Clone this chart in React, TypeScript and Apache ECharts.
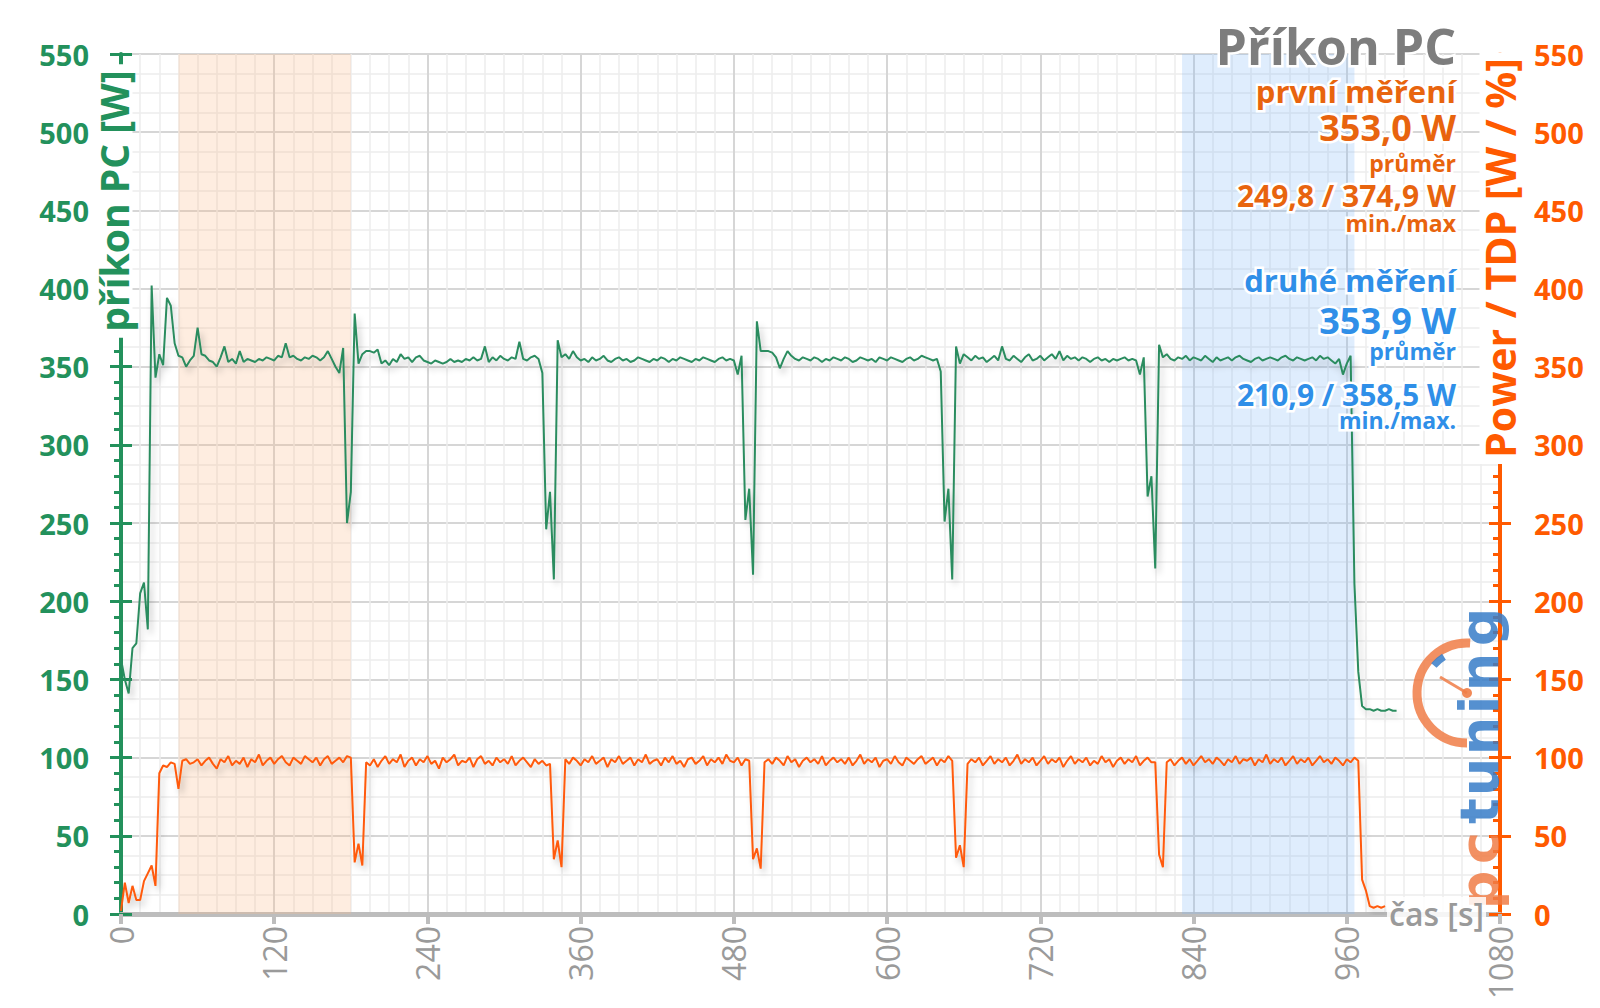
import React, { useEffect, useRef } from 'react';
import * as echarts from 'echarts';

// sampling step of the measurement log (seconds)
const STEP_S = 3;

// x axis (time) and y axes (W, W/%)
const X_MIN = 0;
const X_MAX = 1080;
const X_INTERVAL = 120;
const Y_MIN = 0;
const Y_MAX = 550;
const Y_INTERVAL = 50;

// highlighted measurement windows (seconds)
const bandFirst = [45, 180];
const bandSecond = [831, 966];

// příkon PC [W], one value every STEP_S seconds, starting at 0 s
const pcPower = [
  163, 150, 141, 170, 173, 205, 212, 182, 402, 343,
  358, 351, 394, 389, 365, 357, 356, 350, 354, 357,
  375, 358, 357, 354, 353, 350, 356, 363, 353, 355,
  352, 360, 353, 355, 354, 353, 355, 354, 356, 355,
  354, 357, 356, 365, 356, 357, 355, 354, 356, 355,
  357, 356, 354, 356, 360, 355, 350, 346, 362, 250,
  270, 384, 352, 358, 360, 360, 359, 361, 352, 354,
  351, 355, 353, 358, 355, 356, 353, 356, 357, 354,
  353, 352, 354, 353, 352, 353, 355, 353, 354, 353,
  355, 354, 356, 354, 355, 363, 353, 356, 354, 357,
  355, 354, 356, 355, 366, 355, 354, 356, 357, 355,
  346, 246, 270, 214, 367, 356, 358, 355, 360, 356,
  354, 355, 353, 356, 354, 355, 357, 354, 353, 355,
  356, 354, 355, 353, 354, 356, 355, 354, 353, 355,
  354, 356, 355, 353, 355, 354, 356, 355, 354, 353,
  355, 354, 356, 355, 354, 353, 355, 356, 354, 355,
  354, 345, 357, 252, 272, 217, 379, 360, 360, 360,
  359, 356, 349, 355, 360, 357, 355, 354, 356, 355,
  354, 356, 355, 353, 355, 354, 356, 355, 354, 356,
  355, 353, 354, 356, 355, 354, 355, 353, 356, 355,
  354, 356, 355, 354, 353, 355, 356, 354, 355, 357,
  356, 355, 354, 355, 347, 251, 272, 214, 363, 352,
  358, 356, 354, 357, 355, 356, 353, 355, 357, 354,
  363, 355, 354, 357, 355, 353, 356, 358, 354, 355,
  357, 354, 356, 358, 355, 360, 354, 357, 355, 356,
  354, 356, 355, 353, 355, 356, 354, 355, 353, 355,
  354, 355, 356, 354, 355, 354, 345, 356, 267, 280,
  221, 364, 356, 358, 355, 354, 356, 355, 357, 354,
  356, 355, 354, 357, 355, 353, 356, 354, 355, 356,
  354, 356, 357, 355, 354, 353, 355, 356, 354, 355,
  356, 355, 354, 356, 357, 355, 354, 356, 355, 354,
  355, 356, 354, 357, 355, 356, 354, 352, 355, 345,
  352, 357, 211, 155, 133, 131, 131, 130, 131, 130,
  130, 131, 130, 130,
];

// Power / TDP [W / %], one value every STEP_S seconds, starting at 0 s
const gpuPowerTdp = [
  2, 20, 7, 18, 9, 9, 21, 26, 31, 18,
  90, 95, 94, 97, 96, 80, 98, 99, 96, 97,
  99, 95, 98, 100, 96, 93, 99, 97, 101, 95,
  98, 96, 100, 94, 99, 97, 102, 95, 98, 100,
  96, 99, 101, 97, 95, 100, 98, 96, 101, 99,
  97, 100, 95, 99, 101, 96, 98, 100, 97, 101,
  100, 33, 45, 31, 97, 95, 99, 94, 98, 101,
  96, 99, 97, 102, 94, 98, 100, 95, 99, 97,
  101, 96, 98, 93, 100, 97, 99, 102, 95, 98,
  97, 100, 94, 99, 101, 96, 98, 95, 100, 97,
  99, 96, 101, 95, 98, 100, 97, 94, 99, 96,
  98, 95, 96, 35, 47, 30, 99, 96, 100, 98,
  95, 99, 97, 101, 96, 98, 100, 94, 99, 97,
  101, 96, 98, 100, 95, 99, 97, 102, 96, 98,
  99, 95, 100, 97, 101, 96, 98, 94, 99, 100,
  96, 98, 101, 95, 99, 97, 100, 96, 102, 98,
  97, 100, 95, 99, 98, 35, 42, 29, 97, 99,
  96, 100, 98, 95, 101, 97, 99, 94, 98, 100,
  97, 99, 96, 101, 95, 98, 100, 97, 99, 96,
  100, 95, 98, 102, 96, 99, 97, 100, 94, 98,
  99, 96, 101, 97, 95, 100, 98, 96, 99, 101,
  96, 98, 100, 95, 99, 97, 101, 98, 36, 44,
  30, 96, 99, 97, 100, 95, 98, 101, 96, 99,
  97, 100, 95, 98, 102, 96, 99, 97, 100, 95,
  98, 101, 96, 99, 97, 100, 94, 98, 101, 96,
  99, 97, 100, 95, 98, 96, 101, 97, 99, 94,
  98, 100, 96, 99, 97, 101, 95, 98, 100, 97,
  97, 38, 30, 97, 99, 95, 98, 100, 96, 99,
  95, 98, 101, 97, 99, 96, 100, 98, 95, 99,
  97, 101, 96, 99, 98, 100, 95, 99, 97, 102,
  96, 99, 97, 100, 95, 98, 101, 96, 99, 97,
  100, 95, 98, 101, 97, 99, 96, 100, 98, 95,
  99, 97, 100, 98, 22, 15, 5, 4, 5, 4,
  5,
];

// texts
const chartTitle = 'Příkon PC';
const firstLabel = 'první měření';
const firstAvg = '353,0 W';
const firstMinMax = '249,8 / 374,9 W';
const secondLabel = 'druhé měření';
const secondAvg = '353,9 W';
const secondMinMax = '210,9 / 358,5 W';
const avgCaption = 'průměr';
const minMaxCaption1 = 'min./max';
const minMaxCaption2 = 'min./max.';
const leftAxisName = 'příkon PC [W]';
const rightAxisName = 'Power / TDP [W / %]';
const xAxisName = 'čas [s]';

// logo letters (drawn vertically, bottom to top)
const logoLetters = ['p', 'c', 't', 'u', 'n', 'i', 'n', 'g'];
const logoLetterY = [890, 848, 811, 777, 736, 705, 672, 627];

const GREEN = '#23915c';
const GREEN_LINE = '#2b8c5f';
const ORANGE = '#ff5a00';
const ORANGE_TEXT = '#e8640e';
const BLUE_TEXT = '#2f8fe8';
const GRAY = '#9a9a9a';
const LOGO_ORANGE = 'rgba(240,125,70,0.85)';
const LOGO_BLUE = 'rgba(55,125,200,0.85)';
const FONT = '"Open Sans", "Noto Sans", sans-serif';

const toPairs = (vals: number[]) => vals.map((v, i) => [i * STEP_S, v]);

export default function App() {
  const ref = useRef<HTMLDivElement>(null);
  useEffect(() => {
    if (!ref.current) return;
    const chart = echarts.init(ref.current, undefined, { renderer: 'svg' });

    const yBase = { type: 'value', min: Y_MIN, max: Y_MAX, interval: Y_INTERVAL };
    const tickLabelLeft = { color: GREEN, fontSize: 29, fontWeight: 'bold', fontFamily: FONT, margin: 32 };
    const tickLabelRight = { color: ORANGE, fontSize: 29, fontWeight: 'bold', fontFamily: FONT, margin: 34 };

    const rightX = 1456;
    const blockText = (text: string, y: number, size: number, color: string, weight = 'bold') => ({
      type: 'text',
      z: 100,
      x: rightX,
      y,
      style: {
        text,
        fill: color,
        font: `${weight} ${size}px ${FONT}`,
        align: 'right',
        verticalAlign: 'middle',
        stroke: '#ffffff',
        lineWidth: 5,
      },
    });

    const logoText = logoLetters.map((ch, i) => ({
      type: 'text',
      z: 80,
      x: 1479,
      y: logoLetterY[i],
      rotation: Math.PI / 2,
      style: {
        text: ch,
        fill: i < 2 ? LOGO_ORANGE : LOGO_BLUE,
        font: `bold 54px "DejaVu Sans"`,
        align: 'center',
        verticalAlign: 'middle',
      },
    }));

    const option: any = {
      animation: false,
      backgroundColor: '#ffffff',
      grid: { left: 121, right: 100, top: 54, bottom: 94, containLabel: false },
      xAxis: {
        type: 'value',
        min: X_MIN,
        max: X_MAX,
        interval: X_INTERVAL,
        axisLine: { show: true, lineStyle: { color: '#bdbdbd', width: 5 } },
        axisTick: { show: true, length: 10, lineStyle: { color: '#bdbdbd', width: 4 } },
        axisLabel: {
          rotate: 90, margin: 12, color: GRAY, fontSize: 32, fontFamily: FONT,
          formatter: (v: number) => String(v),
        },
        splitLine: { show: true, lineStyle: { color: '#d6d6d6', width: 2 } },
        minorTick: { show: false, splitNumber: 8 },
        minorSplitLine: { show: true, lineStyle: { color: '#ececec', width: 1.5 } },
      },
      yAxis: [
        {
          ...yBase,
          position: 'left',
          axisLine: { show: true, lineStyle: { color: GREEN, width: 4 } },
          axisTick: { show: true, inside: false, length: 11, lineStyle: { color: GREEN, width: 3 } },
          minorTick: { show: true, splitNumber: 5, length: 7, lineStyle: { color: GREEN, width: 3 } },
          axisLabel: tickLabelLeft,
          splitLine: { show: true, lineStyle: { color: '#d6d6d6', width: 2 } },
          minorSplitLine: { show: false },
        },
        {
          ...yBase,
          position: 'left',
          axisLine: { show: false },
          axisTick: { show: true, inside: true, length: 11, lineStyle: { color: GREEN, width: 3 } },
          minorTick: { show: false, splitNumber: 4 },
          axisLabel: { show: false },
          splitLine: { show: false },
          minorSplitLine: { show: true, lineStyle: { color: '#ececec', width: 1.5 } },
        },
        {
          ...yBase,
          position: 'right',
          axisLine: { show: true, lineStyle: { color: ORANGE, width: 4 } },
          axisTick: { show: true, inside: true, length: 11, lineStyle: { color: ORANGE, width: 3 } },
          minorTick: { show: true, splitNumber: 5, length: 7, lineStyle: { color: ORANGE, width: 3 } },
          axisLabel: tickLabelRight,
          splitLine: { show: false },
          minorSplitLine: { show: false },
        },
        {
          ...yBase,
          position: 'right',
          axisLine: { show: false },
          axisTick: { show: true, inside: false, length: 11, lineStyle: { color: ORANGE, width: 3 } },
          axisLabel: { show: false },
          splitLine: { show: false },
        },
      ],
      series: [
        {
          name: leftAxisName,
          type: 'line',
          yAxisIndex: 0,
          data: toPairs(pcPower),
          showSymbol: false,
          symbol: 'none',
          z: 5,
          lineStyle: {
            color: GREEN_LINE,
            width: 2,
            shadowColor: 'rgba(0,0,0,0.22)',
            shadowBlur: 6,
            shadowOffsetX: 3,
            shadowOffsetY: 5,
          },
          markArea: {
            silent: true,
            label: { show: false },
            data: [
              [{ xAxis: bandFirst[0], itemStyle: { color: 'rgba(250,185,135,0.26)' } }, { xAxis: bandFirst[1] }],
              [{ xAxis: bandSecond[0], itemStyle: { color: 'rgba(120,180,245,0.24)' } }, { xAxis: bandSecond[1] }],
            ],
          },
        },
        {
          name: rightAxisName,
          type: 'line',
          yAxisIndex: 2,
          data: toPairs(gpuPowerTdp),
          showSymbol: false,
          symbol: 'none',
          z: 4,
          lineStyle: {
            color: '#ff5a0a',
            width: 2,
            shadowColor: 'rgba(0,0,0,0.22)',
            shadowBlur: 6,
            shadowOffsetX: 3,
            shadowOffsetY: 5,
          },
        },
      ],
      graphic: [
        // axis names
        {
          type: 'text', z: 90, x: 113, y: 201, rotation: Math.PI / 2,
          style: {
            text: leftAxisName, fill: GREEN, font: `bold 39px ${FONT}`,
            align: 'center', verticalAlign: 'middle', backgroundColor: '#ffffff', padding: [0, 6],
          },
        },
        {
          type: 'text', z: 90, x: 1500, y: 258, rotation: Math.PI / 2,
          style: {
            text: rightAxisName, fill: ORANGE, font: `bold 41px ${FONT}`,
            align: 'center', verticalAlign: 'middle', backgroundColor: '#ffffff', padding: [0, 6],
          },
        },
        {
          type: 'text', z: 90, x: 1486, y: 913,
          style: {
            text: xAxisName, fill: GRAY, font: `600 32px ${FONT}`,
            align: 'right', verticalAlign: 'middle', backgroundColor: 'rgba(255,255,255,0.85)', padding: [0, 2],
          },
        },
        // logo
        {
          type: 'arc', z: 79,
          shape: { cx: 1467, cy: 693, r: 50, startAngle: Math.PI / 2, endAngle: Math.PI * 1.52, clockwise: true },
          style: { stroke: LOGO_ORANGE, lineWidth: 9, fill: 'none' },
        },
        {
          type: 'arc', z: 81,
          shape: { cx: 1467, cy: 693, r: 43, startAngle: Math.PI * 1.22, endAngle: Math.PI * 1.32, clockwise: true },
          style: { stroke: LOGO_BLUE, lineWidth: 7, fill: 'none' },
        },
        {
          type: 'line', z: 81,
          shape: { x1: 1440, y1: 677, x2: 1467, y2: 693 },
          style: { stroke: LOGO_ORANGE, lineWidth: 3 },
        },
        {
          type: 'circle', z: 81,
          shape: { cx: 1467, cy: 693, r: 5 },
          style: { fill: 'rgba(240,125,70,0.9)' },
        },
        ...logoText,
        // title block
        blockText(chartTitle, 46, 50, '#7d7d7d'),
        blockText(firstLabel, 91, 31, ORANGE_TEXT),
        blockText(firstAvg, 127, 36, ORANGE_TEXT),
        blockText(avgCaption, 163, 23, ORANGE_TEXT),
        blockText(firstMinMax, 195, 30, ORANGE_TEXT),
        blockText(minMaxCaption1, 223, 23, ORANGE_TEXT),
        blockText(secondLabel, 280, 31, BLUE_TEXT),
        blockText(secondAvg, 320, 36, BLUE_TEXT),
        blockText(avgCaption, 351, 23, BLUE_TEXT),
        blockText(secondMinMax, 394, 30, BLUE_TEXT),
        blockText(minMaxCaption2, 420, 23, BLUE_TEXT),
      ],
    };

    chart.setOption(option);
    return () => chart.dispose();
  }, []);

  return (
    <div
      ref={ref}
      style={{ position: 'fixed', left: 0, top: 0, width: 1600, height: 1008, background: '#fff' }}
    />
  );
}
